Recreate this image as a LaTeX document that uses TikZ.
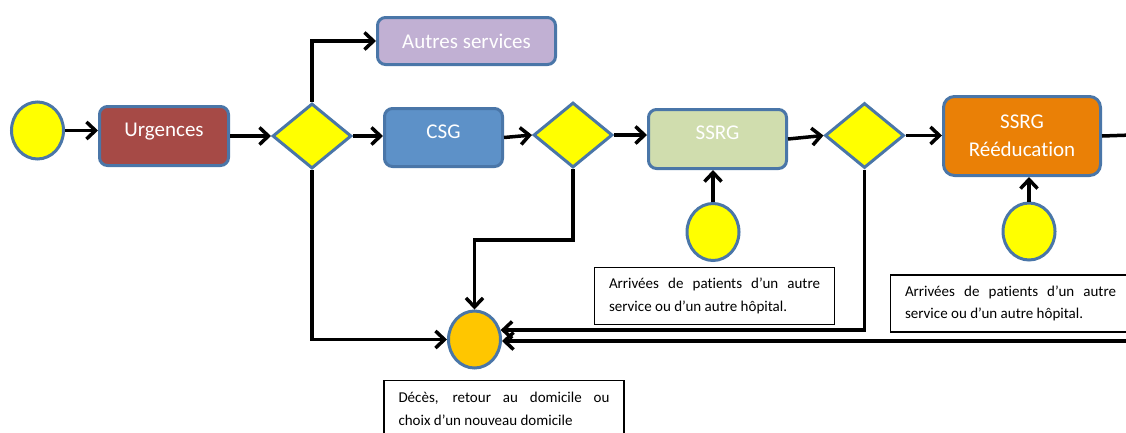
\documentclass[tikz,border=0pt]{standalone}
\usepackage{fontspec}
\setmainfont{Carlito}[Ligatures=NoCommon]
\usetikzlibrary{arrows.meta,shapes.geometric,calc}
\definecolor{bord}{HTML}{4A76A8}
\definecolor{urgfill}{HTML}{A64A46}
\definecolor{autfill}{HTML}{C1B0D3}
\definecolor{csgfill}{HTML}{5D91C8}
\definecolor{ssrgfill}{HTML}{D0DDAE}
\definecolor{reedfill}{HTML}{EA8006}
\definecolor{yel}{HTML}{FFFF00}
\definecolor{endfill}{HTML}{FFC600}
\tikzset{
  svc/.style={draw=bord, line width=3pt, rounded corners=8pt, text=white,
    font=\fontsize{21}{28}\selectfont, align=center, inner sep=0pt},
  raised/.style={text height=13.5pt, text depth=12pt},
  evt/.style={ellipse, draw=bord, line width=3pt, fill=yel, inner sep=0pt,
    minimum width=52pt, minimum height=57pt},
  gate/.style={diamond, draw=bord, line width=3pt, fill=yel, inner sep=0pt,
    minimum width=79pt, minimum height=65pt},
  note/.style={draw=black, line width=1.2pt, fill=white, text width=211pt,
    inner xsep=14.5pt, align=justify, minimum height=57pt,
    font=\fontsize{15}{22.5}\selectfont},
  arr/.style={line width=3.5pt, -{Straight Barb[length=9pt,width=17pt]}},
  conn/.style={line width=3.5pt}
}
\begin{document}
\begin{tikzpicture}[x=1pt,y=-1pt]
\useasboundingbox (0,0) rectangle (1126,432);
\clip (0,0) rectangle (1126,432);

% nodes
\node[evt] (start) at (37.5,130.5) {};
\node[svc, raised, fill=urgfill, minimum width=129pt, minimum height=59pt] (urg) at (164,136) {Urgences};
\node[gate] (d1) at (312,136) {};
\node[svc, fill=autfill, minimum width=178pt, minimum height=47pt] (aut) at (466.5,41) {Autres services};
\node[svc, raised, fill=csgfill, minimum width=118pt, minimum height=58pt] (csg) at (443.5,137.5) {CSG};
\node[gate] (d2) at (573,135) {};
\node[svc, raised, fill=ssrgfill, minimum width=138pt, minimum height=59pt] (ssrg) at (717.5,139) {SSRG};
\node[gate] (d3) at (864.5,135.5) {};
\node[svc, fill=reedfill, rounded corners=11pt, minimum width=157pt, minimum height=79pt] (reed) at (1022,136) {SSRG\\Rééducation};
\node[evt] (in1) at (713,232) {};
\node[evt] (in2) at (1029,231.5) {};
\node[evt, fill=endfill] (end) at (474.5,339.5) {};

\node[note] (n1) at (714.5,296) {Arrivées de patients d’un autre\linebreak service ou d’un autre hôpital.};
\node[note] (n2) at (1010.5,303.5) {Arrivées de patients d’un autre\linebreak service ou d’un autre hôpital.};
\node[note] (n3) at (504,409) {Décès, retour au domicile ou\linebreak choix d’un nouveau domicile};

\coordinate (rout) at (1132,135);
\coordinate (rin) at (1132,341);

% connectors
\draw[arr] (start.east) -- (start.east -| urg.west);
\draw[arr] (urg.east) -- (d1.west);
\draw[arr] (d1.east) -- (d1.east -| csg.west);
\draw[arr] (d1.north) |- (aut.west);
\draw[arr] (csg.east) -- (d2.west);
\draw[arr] (d2.east) -- (d2.east -| ssrg.west);
\draw[arr] (ssrg.east) -- (d3.west);
\draw[arr] (d3.east) -- (d3.east -| reed.west);
\draw[conn] (reed.east) -- (rout);
\draw[arr] (in1.north) -- (in1.north |- ssrg.south);
\draw[arr] (in2.north) -- (in2.north |- reed.south);
\draw[arr] (d1.south) |- (end.west);
\draw[arr] (d2.south) -- ++(0,71) -| (end.north);
\draw[arr] (d3.south) |- (end.20);
\draw[arr] (rin) -- (rin -| end.east);
\end{tikzpicture}
\end{document}
